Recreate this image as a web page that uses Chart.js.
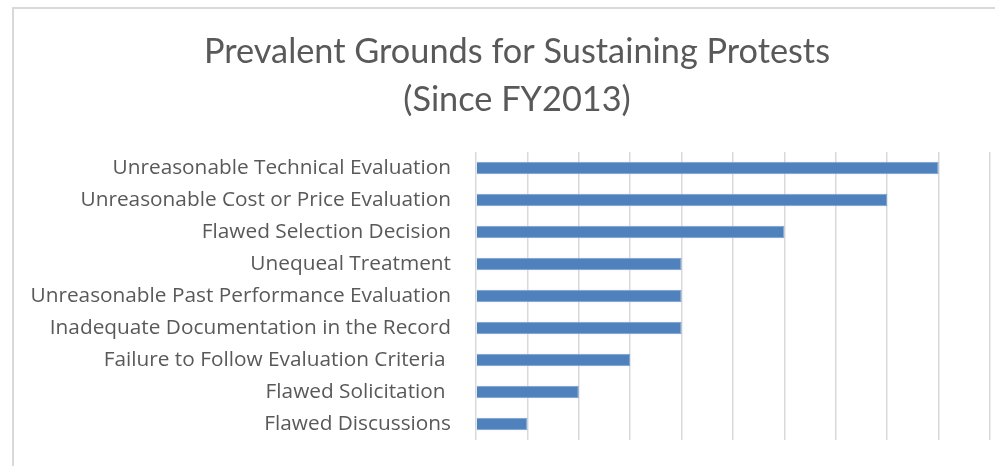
<!DOCTYPE html>
<html>
<head>
<meta charset="utf-8">
<script src="https://cdn.jsdelivr.net/npm/chart.js@4.4.0/dist/chart.umd.min.js"></script>
<style>
  html, body { margin: 0; padding: 0; background: #ffffff; overflow: hidden; }
  #wrap { position: relative; width: 995px; height: 466px; }
  #frame { position: absolute; left: 12px; top: 7px; width: 1000px; height: 500px;
           border: 2px solid #d9d9d9; box-sizing: border-box; pointer-events: none; }
  canvas { position: absolute; left: 0; top: 0; }
</style>
</head>
<body>
<div id="wrap">
  <canvas id="c" width="995" height="466"></canvas>
  <div id="frame"></div>
</div>
<script>
const titleLines = ["Prevalent Grounds for Sustaining Protests", "(Since FY2013)"];
const categories = [
  "Unreasonable Technical Evaluation",
  "Unreasonable Cost or Price Evaluation",
  "Flawed Selection Decision",
  "Unequeal Treatment",
  "Unreasonable Past Performance Evaluation",
  "Inadequate Documentation in the Record",
  "Failure to Follow Evaluation Criteria ",
  "Flawed Solicitation ",
  "Flawed Discussions"
];
const sustainedCounts = [9, 8, 6, 4, 4, 4, 3, 2, 1];
const axisMin = 0;
const axisMax = 10;
const axisStep = 1;

// widen the label clip area so long category names are not cut at the title-centering padding
const labelAreaPlugin = {
  id: 'labelArea',
  afterLayout(chart) { chart.scales.y.left = 0; }
};

new Chart(document.getElementById('c'), {
  type: 'bar',
  data: {
    labels: categories,
    datasets: [{
      data: sustainedCounts,
      backgroundColor: '#4f81bd',
      borderColor: '#7a9fd0',
      borderWidth: 1,
      categoryPercentage: 1,
      barPercentage: 0.39
    }]
  },
  plugins: [labelAreaPlugin],
  options: {
    indexAxis: 'y',
    responsive: false,
    animation: false,
    layout: { padding: { left: 44, right: 5, top: 0, bottom: 26 } },
    plugins: {
      legend: { display: false },
      tooltip: { enabled: false },
      title: {
        display: true,
        text: titleLines,
        color: '#595959',
        font: { family: 'Lato', size: 34.3, weight: '400', lineHeight: 1.4 },
        padding: { top: 28, bottom: 28 }
      }
    },
    scales: {
      x: {
        min: axisMin, max: axisMax,
        ticks: { display: false, stepSize: axisStep },
        grid: { color: '#d9d9d9', lineWidth: 1.5, drawTicks: false },
        border: { display: false },
        afterFit: function(scale) { scale.height = 0; scale.paddingLeft = 0; scale.paddingRight = 0; }
      },
      y: {
        ticks: {
          color: '#595959',
          font: { family: 'Open Sans', size: 20.8 },
          padding: 25,
          autoSkip: false
        },
        grid: { display: false, drawTicks: false },
        border: { display: false },
        afterFit: function(scale) { scale.width = 432; scale.paddingTop = 0; scale.paddingBottom = 0; }
      }
    }
  }
});
</script>
</body>
</html>
